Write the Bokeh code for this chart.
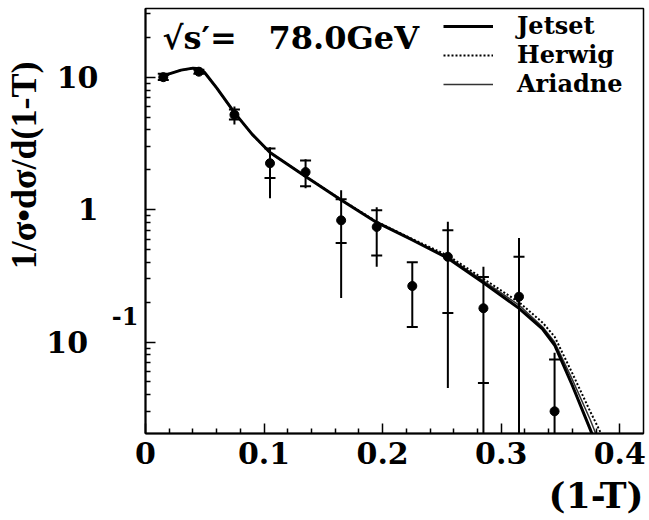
import math
from bokeh.plotting import figure
from bokeh.models import (Range1d, FixedTicker, Label, Legend, LegendItem, ColumnDataSource,
                          Title, LogAxis)
from bokeh.embed import file_html
from bokeh.resources import INLINE

# ---- data ----
data_x = [0.015, 0.045, 0.075, 0.105, 0.135, 0.165, 0.195, 0.225, 0.255, 0.285, 0.315, 0.345]
data_y = [10.0, 11.0, 5.2, 2.24, 1.92, 0.83, 0.74, 0.265, 0.44, 0.18, 0.22, 0.030]
tot_lo = [9.3, 10.4, 4.4, 1.22, 1.45, 0.215, 0.37, 0.13, 0.045, 0.005, 0.005, 0.005]
tot_hi = [10.8, 11.6, 6.0, 2.96, 2.40, 1.40, 1.04, 0.40, 0.81, 0.37, 0.61, 0.083]
stat_lo = [9.5, 10.6, 4.8, 1.73, 1.50, 0.56, 0.45, 0.13, 0.166, 0.049, 0.005, 0.005]
stat_hi = [10.6, 11.4, 5.7, 2.90, 2.35, 1.20, 0.99, 0.40, 0.70, 0.31, 0.44, 0.074]

mc_x = [0.0125, 0.02, 0.03, 0.04, 0.046, 0.05, 0.06, 0.075, 0.09, 0.105, 0.135, 0.165,
        0.195, 0.225, 0.255, 0.285, 0.315, 0.335, 0.345, 0.36, 0.375, 0.39]
jetset = [9.6, 10.6, 11.3, 11.7, 11.6, 10.8, 8.3, 5.4, 3.7, 2.7, 1.78, 1.18,
          0.80, 0.59, 0.43, 0.28, 0.18, 0.125, 0.095, 0.047, 0.022, 0.010]
herwig = [9.6, 10.6, 11.3, 11.7, 11.6, 10.8, 8.3, 5.4, 3.7, 2.7, 1.78, 1.19,
          0.81, 0.60, 0.45, 0.30, 0.20, 0.14, 0.11, 0.058, 0.030, 0.016]
ariadne = [9.6, 10.6, 11.3, 11.7, 11.6, 10.8, 8.3, 5.4, 3.7, 2.7, 1.78, 1.18,
           0.80, 0.59, 0.44, 0.29, 0.19, 0.13, 0.10, 0.052, 0.026, 0.012]

x_ticks = [0, 0.1, 0.2, 0.3, 0.4]
x_tick_labels = ["0", "0.1", "0.2", "0.3", "0.4"]
y_ticks = [0.1, 1, 10]
y_tick_labels = ["10\u00a0", "1", "10"]
y_exp_pos = [0.157]
y_exp_label = "-1"
energy_lhs = "√s′="
energy_rhs = "78.0GeV"
y_title = "1/σ•dσ/d(1-T)"
x_title = "(1-T)"
legend_names = ["Jetset", "Herwig", "Ariadne"]

FONT = "DejaVu Serif"
TITLE_FONT = "Liberation Serif"

p = figure(width=649, height=520, y_axis_type="log",
           x_range=Range1d(0, 0.42), y_range=Range1d(0.0204, 33),
           output_backend="svg", toolbar_location=None,
           min_border_left=145, min_border_right=6, min_border_top=8, min_border_bottom=87)
p.background_fill_color = "white"
p.border_fill_color = "white"
p.xgrid.visible = False
p.ygrid.visible = False
p.outline_line_color = "black"
p.outline_line_width = 1.5

def style_labels(ax, size):
    ax.major_label_text_font = FONT
    ax.major_label_text_font_style = "bold"
    ax.major_label_text_font_size = size
    ax.major_label_text_color = "black"

# x axis
minor_x = [round(0.02 * i, 2) for i in range(1, 21) if i % 5 != 0]
p.xaxis.ticker = FixedTicker(ticks=x_ticks, minor_ticks=minor_x)
p.xaxis.major_label_overrides = {t: l for t, l in zip(x_ticks, x_tick_labels)}
p.xaxis.major_label_standoff = 8
style_labels(p.xaxis[0], "30px")

# y axis: ticks only (labels on the outer axes)
minor_y = [m * d for d in (0.01, 0.1, 1, 10) for m in range(2, 10)]
p.yaxis.ticker = FixedTicker(ticks=y_ticks, minor_ticks=minor_y)
p.yaxis.major_label_overrides = {t: "" for t in y_ticks}
p.yaxis.major_label_standoff = 0
p.yaxis.major_label_text_font_size = "1px"

for ax in (p.xaxis[0], p.yaxis[0]):
    ax.axis_line_width = 2
    ax.major_tick_in = 10
    ax.major_tick_out = 0
    ax.minor_tick_in = 5
    ax.minor_tick_out = 0
    ax.major_tick_line_width = 1.5
    ax.minor_tick_line_width = 1.5

# exponent of the 10^-1 label
exp_axis = LogAxis(ticker=FixedTicker(ticks=y_exp_pos, minor_ticks=[]),
                   major_label_overrides={y_exp_pos[0]: y_exp_label},
                   axis_line_color=None, major_tick_line_color=None, minor_tick_line_color=None,
                   major_tick_in=0, major_tick_out=0, minor_tick_in=0, minor_tick_out=0,
                   major_label_standoff=7)
style_labels(exp_axis, "24px")
p.add_layout(exp_axis, "left")

# visible decade labels
lab_axis = LogAxis(ticker=FixedTicker(ticks=y_ticks, minor_ticks=[]),
                   major_label_overrides={t: l for t, l in zip(y_ticks, y_tick_labels)},
                   axis_line_color=None, major_tick_line_color=None, minor_tick_line_color=None,
                   major_tick_in=0, major_tick_out=0, minor_tick_in=0, minor_tick_out=0,
                   major_label_standoff=10)
style_labels(lab_axis, "30px")
p.add_layout(lab_axis, "left")

# axis titles as side titles
p.add_layout(Title(text=y_title, align="right", text_font=TITLE_FONT, text_font_style="bold",
                   text_font_size="36px", text_color="black", offset=53, standoff=0), "left")
p.add_layout(Title(text=x_title, align="right", text_font=FONT, text_font_style="bold",
                   text_font_size="36px", text_color="black"), "below")

# curves
src = ColumnDataSource(dict(x=mc_x, j=jetset, h=herwig, a=ariadne))
ra = p.line("x", "a", source=src, line_color="#333333", line_width=1.5)
rh = p.line("x", "h", source=src, line_color="black", line_width=2, line_dash="2 2")
rj = p.line("x", "j", source=src, line_color="black", line_width=3)

# data
p.segment(x0=data_x, y0=tot_lo, x1=data_x, y1=tot_hi, line_color="black", line_width=2)
p.scatter(data_x, stat_lo, marker="dash", size=11, line_color="black", line_width=2)
p.scatter(data_x, stat_hi, marker="dash", size=11, line_color="black", line_width=2)
p.scatter(data_x, data_y, marker="circle", size=9, color="black")

legend = Legend(items=[LegendItem(label=legend_names[0], renderers=[rj]),
                       LegendItem(label=legend_names[1], renderers=[rh]),
                       LegendItem(label=legend_names[2], renderers=[ra])],
                location=(298, 335), margin=0, padding=0, spacing=0,
                glyph_width=50, glyph_height=22, label_height=22, label_standoff=24,
                border_line_color=None, background_fill_alpha=0,
                label_text_font=FONT, label_text_font_style="bold",
                label_text_font_size="24px", label_text_color="black")
p.add_layout(legend)

def lab(x, y, text, size, **kw):
    p.add_layout(Label(x=x, y=y, text=text, text_font=FONT, text_font_style="bold",
                       text_font_size=size, text_color="black", **kw))

lab(0.0143, 19.7, energy_lhs, "32px", text_baseline="middle", text_align="left")
lab(0.1038, 19.7, energy_rhs, "32px", text_baseline="middle", text_align="left")

open("out.html", "w").write(file_html(p, INLINE))
